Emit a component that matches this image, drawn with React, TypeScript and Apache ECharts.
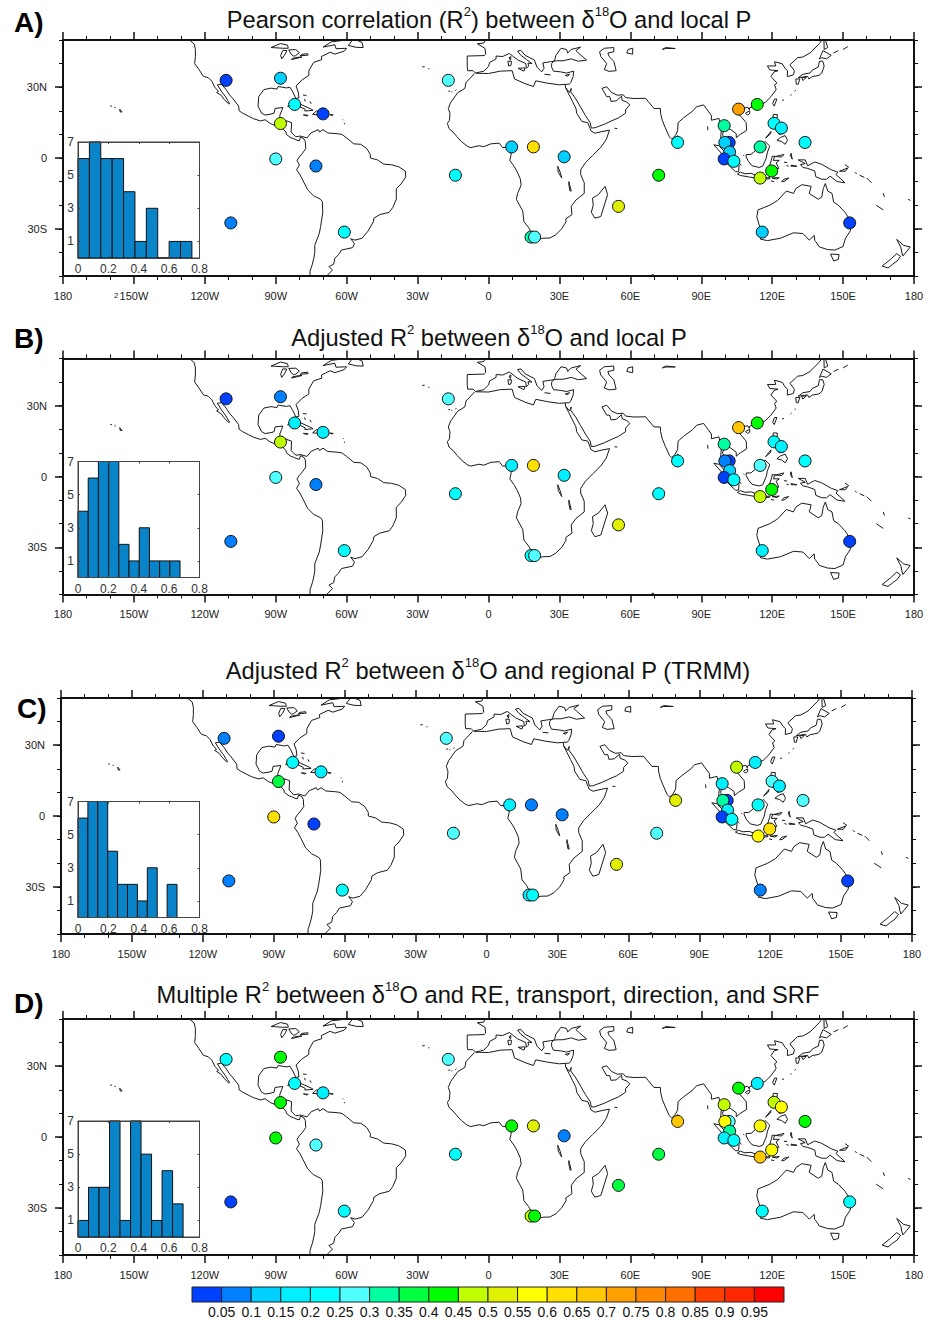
import React, { useEffect, useRef } from "react";
import * as echarts from "echarts";

const STATION_LON = [-111, -88, -82, -70, -88, -90, -73, -109, -61, -17, -14, 9.8, 19, 32, 18, 19.5, 55, 72, 80, 105.8, 113.7, 99.7, 101.8, 100, 102, 99.7, 103.8, 114.9, 119.8, 114.9, 120.8, 123.9, 133.9, 152.8, 115.8];
const STATION_LAT = [32.9, 33.8, 22.7, 18.7, 14.6, -0.4, -3.4, -27.5, -31.4, 32.9, -7.3, 4.7, 4.7, 0.5, -33.5, -33.5, -20.5, -7.3, 6.6, 20.7, 22.7, 13.7, 6.6, 6.6, 2.5, -0.4, -1.4, 4.7, -5.5, -8.5, 14.7, 12.7, 6.6, -27.5, -31.4];

const R2_A = [0.03, 0.13, 0.23, 0.03, 0.48, 0.28, 0.08, 0.08, 0.23, 0.28, 0.23, 0.13, 0.63, 0.13, 0.33, 0.28, 0.53, 0.43, 0.23, 0.73, 0.43, 0.33, 0.03, 0.13, 0.13, 0.03, 0.23, 0.33, 0.43, 0.48, 0.23, 0.18, 0.23, 0.03, 0.13];
const R2_B = [0.03, 0.08, 0.18, 0.18, 0.48, 0.28, 0.08, 0.08, 0.23, 0.28, 0.23, 0.18, 0.63, 0.18, 0.23, 0.28, 0.53, 0.23, 0.23, 0.68, 0.43, 0.33, 0.03, 0.08, 0.13, 0.03, 0.23, 0.28, 0.43, 0.48, 0.23, 0.18, 0.23, 0.03, 0.18];
const R2_C = [0.08, 0.03, 0.23, 0.18, 0.38, 0.63, 0.03, 0.08, 0.23, 0.28, 0.28, 0.18, 0.08, 0.08, 0.18, 0.23, 0.53, 0.28, 0.53, 0.48, 0.18, 0.18, 0.03, 0.33, 0.18, 0.03, 0.23, 0.23, 0.63, 0.58, 0.28, 0.18, 0.28, 0.03, 0.08];
const R2_D = [0.23, 0.43, 0.23, 0.18, 0.43, 0.43, 0.28, 0.03, 0.23, 0.28, 0.23, 0.43, 0.53, 0.08, 0.48, 0.43, 0.38, 0.38, 0.68, 0.43, 0.18, 0.48, 0.28, 0.58, 0.33, 0.18, 0.23, 0.58, 0.58, 0.68, 0.48, 0.58, 0.43, 0.23, 0.23];

const HIST_A = [6, 7, 6, 6, 4, 1, 3, 0, 1, 1];
const HIST_B = [4, 6, 7, 7, 2, 1, 3, 1, 1, 1];
const HIST_C = [6, 7, 7, 4, 2, 2, 1, 3, 0, 2];
const HIST_D = [1, 3, 3, 7, 1, 7, 5, 1, 4, 2];
const BIN_A = 0.075;
const BIN_B = 0.0672;
const BIN_C = 0.0652;
const BIN_D = 0.0692;

const HIST_TICKS_Y = [1, 3, 5, 7];
const LAT_LABELS = [-30, 0, 30];
const LAT_MINOR = [-50, -40, -30, -20, -10, 0, 10, 20, 30, 40, 50];
const BAR_LABELS = [0.05, 0.1, 0.15, 0.2, 0.25, 0.3, 0.35, 0.4, 0.45, 0.5, 0.55, 0.6, 0.65, 0.7, 0.75, 0.8, 0.85, 0.9, 0.95];
const BAR_COLORS = ["#0040ff", "#0080ff", "#00d0ff", "#00f0ff", "#00ffff", "#50ffff", "#00ffa0", "#00ff40", "#00ff00", "#c0ff00", "#e0f000", "#ffff00", "#ffe000", "#ffc800", "#ffa000", "#ff8800", "#ff7000", "#ff4000", "#ff2800", "#ff0000"];

const TITLE_A = "{t|Pearson correlation (R}{s|2}{t|) between δ}{s|18}{t|O and local P}";
const TITLE_B = "{t|Adjusted R}{s|2}{t| between δ}{s|18}{t|O and local P}";
const TITLE_C = "{t|Adjusted R}{s|2}{t| between δ}{s|18}{t|O and regional P (TRMM)}";
const TITLE_D = "{t|Multiple R}{s|2}{t| between δ}{s|18}{t|O and RE, transport, direction, and SRF}";

const COASTS: number[][][] = [
  // North + Central America, west side then South America west coast
  [[-126.5, 50], [-124.5, 48.3], [-124, 46], [-124, 43], [-124.3, 40], [-122.5, 37.5], [-120.6, 34.6], [-118.5, 34], [-117, 32.5], [-115.8, 30], [-114.2, 28.2], [-115, 27.8], [-113, 26.5], [-112, 25], [-110, 23], [-109.5, 23], [-110.3, 24.3], [-111.3, 26], [-112.8, 28], [-114.7, 31], [-113, 31.3], [-111, 29], [-109.5, 26.7], [-108, 25], [-105.7, 22], [-105.5, 20], [-104, 19], [-101.5, 17.7], [-99.5, 16.7], [-96.5, 15.7], [-94.5, 16.2], [-92.3, 14.6], [-90, 13.7], [-87.5, 13], [-85.7, 11], [-85.5, 10], [-83.5, 8.5], [-82.5, 8.2], [-81, 7.5], [-80, 7.3], [-79.5, 8.9], [-78, 8], [-77.5, 7], [-77.3, 4], [-78.7, 2], [-80, 0.5], [-81, -1], [-80, -3], [-81.2, -5], [-79.8, -7], [-78.5, -9.5], [-76.5, -13.5], [-74, -16], [-71, -17.5], [-70.3, -18.5], [-70.1, -23], [-71, -29], [-71.6, -32], [-73.5, -37], [-73.5, -40], [-73.8, -42], [-74.5, -45], [-75.5, -48], [-75.5, -50]],
  // South America east coast, Caribbean shore, Gulf, North America east coast
  [[-68.5, -50], [-66, -47.5], [-67.5, -46], [-65.5, -45], [-65, -42.5], [-63.5, -41], [-62.2, -39], [-57.5, -38], [-56.7, -36.3], [-58.3, -34.2], [-56.5, -34.8], [-53.5, -34], [-51, -31], [-48.7, -27], [-48.5, -25.5], [-46, -24], [-42, -23], [-40.5, -21], [-39, -17.5], [-39, -13], [-37, -11], [-35, -8], [-35.2, -5.5], [-38, -3.7], [-41, -2.9], [-44.3, -2.6], [-47, -0.8], [-50, 0], [-50, 1.5], [-51.5, 4], [-54, 5.8], [-57, 6], [-60, 8.5], [-62, 10], [-64, 10.3], [-68, 10.6], [-70, 12], [-71.5, 11], [-72, 12], [-75, 10.7], [-76.8, 8.5], [-79.5, 9.3], [-81.5, 9], [-83.5, 11], [-83.3, 15], [-86, 15.9], [-88, 15.9], [-88.3, 18], [-87.5, 20], [-87, 21.4], [-90.3, 21], [-90.7, 19], [-92, 18.6], [-94.5, 18.2], [-96, 19], [-97.5, 22], [-97.2, 26], [-95, 29], [-92, 29.6], [-89.5, 29.2], [-89, 30.3], [-85.5, 29.7], [-84, 30], [-82.8, 28], [-81.5, 25.2], [-80.2, 25.5], [-80.5, 28], [-81.4, 30.5], [-79, 33], [-76, 35], [-76, 37], [-74, 40.5], [-70.5, 41.7], [-70.7, 43], [-67, 44.8], [-65, 44], [-61, 45.3], [-60, 46.5], [-64.5, 46.3], [-65, 48], [-70, 47], [-66.5, 49.2], [-60, 50]],
  // Great Lakes, Newfoundland
  [[-92, 46.8], [-88, 48.5], [-85, 47.8], [-84.7, 46.5], [-87, 46.5], [-90, 46.7], [-92, 46.8]],
  [[-87.5, 42], [-86.3, 43.5], [-85.3, 45.5], [-87, 45.6], [-87.9, 43.5], [-87.5, 42]],
  [[-84.5, 45.8], [-81.5, 45.9], [-80, 44.6], [-81.7, 43.3], [-82.5, 43.2], [-83.5, 44], [-84.5, 45.8]],
  [[-83.3, 41.7], [-78.9, 42.8], [-80.5, 42.7], [-83, 42.2], [-83.3, 41.7]],
  [[-79.7, 43.3], [-76.3, 43.6], [-76.5, 44.2], [-79, 43.9], [-79.7, 43.3]],
  [[-59.3, 47.7], [-56, 46.9], [-53, 46.8], [-53.5, 49], [-56, 50], [-57.5, 50], [-59.3, 47.7]],
  // Caribbean islands
  [[-85, 21.9], [-82.5, 23], [-80, 23], [-75, 20.7], [-74.2, 20.2], [-77.7, 19.9], [-77.5, 20.6], [-80, 21.8], [-82, 22.4], [-85, 21.9]],
  [[-74.4, 18.5], [-72.8, 19.9], [-69.8, 19.7], [-68.4, 18.6], [-71, 18.2], [-74.4, 18.5]],
  [[-78.3, 18.3], [-76.3, 18.1], [-77, 17.8], [-78.3, 18.3]],
  [[-67.2, 18.4], [-65.7, 18.3], [-66, 18], [-67.2, 18.4]],
  [[-78.5, 26.7], [-77, 26.5]], [[-77.8, 25], [-77.5, 24]], [[-75.5, 24], [-75, 23]],
  [[-61.6, 16.3], [-61.3, 16]], [[-61, 14.8], [-60.9, 14.3]],
  // Hawaii, Atlantic islands
  [[-156, 20.7], [-155.8, 19.5], [-155, 19.5], [-156, 20.7]], [[-160, 22], [-159.3, 22]], [[-158.2, 21.5], [-157.7, 21.4]],
  [[-17, 28.3], [-16.2, 28.4]], [[-15.7, 28], [-15.3, 28]], [[-14, 28.5], [-13.6, 29]],
  [[-28, 38.6], [-27, 38.7]], [[-25.5, 37.8], [-25, 37.8]],
  // Africa
  [[-5.9, 35.8], [-9.5, 32], [-10, 29.5], [-13, 27.7], [-16, 23.5], [-17, 21], [-16.3, 19], [-16.5, 16], [-17.4, 14.7], [-16.7, 12.5], [-15, 11], [-13.3, 9], [-11.5, 7], [-9, 5], [-7.5, 4.4], [-4, 5.2], [-2, 4.8], [1, 6], [4.5, 6.3], [6, 4.4], [8.5, 4.6], [9.7, 3.8], [9.5, 1], [9, -1], [11, -3.8], [12.2, -6], [13.5, -9], [13.8, -11.5], [12.3, -15], [11.8, -17.5], [14.5, -22.5], [15, -27], [17, -29.5], [18.3, -32], [18.5, -34.2], [20, -34.8], [23, -34], [26, -33.9], [28.5, -32.5], [31, -30], [32.8, -27], [32.7, -25.8], [35.3, -24], [35, -20.5], [37, -17.8], [40.5, -15], [40.5, -10.5], [39, -7], [39, -5], [41, -2], [44, 1], [47.5, 4.5], [49.8, 7.8], [51.2, 11.8], [48, 11.2], [45, 10.5], [43.3, 11.5], [43, 12.5], [42, 15], [39.5, 15.5], [37.3, 19], [37, 21], [35.5, 24], [34, 27], [32.6, 29.8], [32.5, 31.2], [30, 31], [25, 31.7], [20, 32.7], [19, 30.3], [15.5, 31.5], [11, 33.5], [10, 37], [5, 36.8], [0, 35.8], [-5.3, 35.9]],
  // Europe and Middle East Mediterranean shore
  [[-1.5, 50], [-2, 48.7], [-4.7, 48.4], [-1.5, 46.5], [-1.2, 44], [-1.8, 43.4], [-9, 43.2], [-9, 38.7], [-8.8, 37], [-6.5, 37], [-5.5, 36], [-2, 36.8], [0, 38.8], [0.5, 40.5], [3.2, 42], [3.2, 43.2], [6, 43], [8.8, 44.3], [10.5, 43], [12.3, 41.6], [15.8, 40], [16, 38], [17, 39], [16.7, 40.2], [18.4, 40], [16, 41.8], [13.7, 43.5], [12.3, 45.3], [13.7, 45.6], [15.5, 43.5], [19.4, 41.5], [20.5, 38.5], [22.5, 36.5], [23.5, 38], [23, 40.3], [26.2, 40.8], [29, 41.2], [31.5, 41.2], [35, 42], [38, 41], [41.5, 41.5], [38, 44.5], [37, 45.5], [39, 47], [35, 46], [33.5, 44.5], [33, 46], [30.7, 46.5], [28.5, 43.5], [28, 41.5], [26.7, 40], [26.7, 38.5], [27.5, 36.8], [30.5, 36.5], [33, 36], [36, 36.8], [35.8, 34.5], [34.8, 32], [34.2, 31.3], [32.5, 31.2]],
  // Sinai, Arabia, South and East Asia
  [[32.6, 29.8], [34.3, 27.8], [35, 29.5], [34.8, 28], [37, 25], [39, 21.5], [41, 18], [43, 15], [43.5, 12.7], [45, 12.8], [49, 14.3], [52.2, 15.8], [55, 17], [58, 19], [58, 20.5], [59.8, 22.5], [58.5, 23.7], [56.5, 24.5], [56.3, 26.2], [54, 24.2], [51.8, 24], [51.3, 26], [50, 26], [48, 29.5], [50, 30.2], [52, 27.8], [54.5, 26.6], [57, 26.8], [58, 25.6], [61.5, 25.2], [66.5, 25.3], [67.5, 24], [70, 21], [72.7, 21], [72.8, 19], [73.5, 16], [74.8, 12.8], [76.5, 9], [77.5, 8], [79, 9.5], [80, 11.5], [80.2, 15], [82.5, 17], [86.5, 20], [88, 21.7], [91, 22.5], [92.3, 20.7], [94.3, 18], [94.3, 16], [97.5, 16.8], [98.5, 12], [98.2, 8], [100.3, 5.5], [101.3, 3], [103.5, 1.3], [104.2, 1.4], [103.4, 4], [102.3, 6], [100.2, 7.5], [99, 10], [100, 13.4], [101, 12.7], [102.5, 12], [104.8, 10.3], [104.8, 8.6], [106.5, 10], [109.2, 11.7], [109, 15], [106, 18.5], [105.8, 19.5], [107.5, 21], [109.7, 21.5], [110.3, 20.4], [110.5, 21.3], [113.5, 22.3], [117, 23.5], [119.5, 26], [121.7, 29], [121, 31], [122, 31.8], [119.5, 34.5], [120.8, 36.5], [122.5, 37], [119, 37.3], [118, 39], [121.5, 39], [121, 40.8], [124.3, 39.9], [125.4, 38], [126.5, 37], [126.4, 34.5], [129, 35.2], [129.4, 37], [127.5, 39.5], [129.7, 41.5], [130.7, 42.5], [133, 42.8], [136, 44.5], [140, 48.5], [141, 50]],
  // Inland seas and lakes
  [[49, 46.5], [53, 46.8], [53, 45], [50.5, 44.5], [51, 43], [53, 41], [54, 37], [51, 36.7], [49, 37.5], [50, 40], [47.5, 43], [47, 45], [49, 46.5]],
  [[59, 46], [61, 46.5], [61, 44], [58.5, 44.5], [59, 46]],
  [[73.5, 46], [75, 46.8], [79, 46.4], [75, 46.4], [73.5, 46]],
  [[29.3, -3.5], [29.5, -6], [31, -8.5], [30.3, -6], [29.3, -3.5]],
  [[34, -10], [34.5, -12], [35, -14], [34.5, -14], [34, -11.5], [34, -10]],
  // Mediterranean and other islands
  [[8.2, 41], [9.7, 41], [9.5, 39.2], [8.5, 39], [8.2, 41]], [[8.7, 42.5], [9.5, 43], [9.3, 41.5], [8.7, 42.5]],
  [[12.5, 38], [15.5, 38.2], [15, 36.8], [12.5, 38]], [[23.7, 35.5], [26.2, 35.2]], [[32.5, 35], [34.3, 35.5], [33.5, 34.7], [32.5, 35]],
  [[53.3, 12.6], [54.5, 12.5]], [[-4, 50], [-5.5, 50]],
  [[80, 9.5], [81.8, 7.5], [81, 6], [80, 6.2], [79.8, 8], [80, 9.5]],
  [[49.3, -12], [50.4, -15.5], [47.5, -24.8], [45, -25.5], [43.5, -23], [44.3, -20], [44, -17], [46.5, -15.5], [49.3, -12]],
  [[92.7, 13.4], [92.8, 11.8]], [[69, -49.5], [70, -49.5]],
  // East Asian islands
  [[108.7, 19], [110.5, 20], [110.5, 18.8], [109.5, 18.2], [108.7, 19]],
  [[121, 25], [122, 25], [120.9, 22], [120.2, 23], [121, 25]],
  [[131, 34], [133, 35.5], [136, 36], [137, 37.3], [139.5, 38.5], [140, 41], [141.4, 41], [142, 39], [141, 36], [139.8, 35], [137, 34.5], [135.5, 33.5], [135, 34.6], [131, 34]],
  [[130, 33.5], [131.7, 33.5], [131, 31.2], [130.2, 31.3], [130, 33.5]],
  [[132.5, 34], [134.5, 34.2], [133, 32.8], [132.5, 34]],
  [[140, 42], [141.5, 45.5], [145, 43.5], [143, 42], [141, 42.5], [140, 42]],
  [[142, 46], [143.5, 46.8], [142.5, 50], [141.9, 50], [142, 46]],
  [[127.7, 26.5], [128.2, 26.9]], [[124.2, 24.4], [125, 24.6]], [[129.5, 28.3], [130, 28.7]], [[146, 44.5], [148, 45.5]], [[150, 46], [152, 47.2]],
  // Philippines
  [[120.5, 18.5], [122.2, 18.4], [122, 16], [124, 13], [123, 13.3], [121, 13.8], [120, 15], [120.5, 18.5]],
  [[122, 7.5], [123.5, 8.7], [125.5, 9.5], [126.5, 7.5], [125.5, 5.8], [124, 7], [122, 7.5]],
  [[122, 11.5], [123, 10], [125, 10.5], [125.5, 12.5], [124, 12], [122, 11.5]],
  [[117.2, 8.4], [119.5, 11.3], [119.3, 10.2], [117.2, 8.4]],
  // Indonesia
  [[109, 1.5], [111, 1.5], [113, 3.2], [115, 5], [117, 7], [119, 5], [118, 2.5], [117.5, 0], [116, -3.5], [114.5, -4], [111.5, -3.3], [110, -1.5], [109, 0.5], [109, 1.5]],
  [[95.3, 5.6], [97.5, 5.2], [100.5, 2], [103.5, -1], [106, -3], [105.8, -5.8], [104.5, -5.8], [101, -2.5], [98.8, 1.7], [95.3, 5.6]],
  [[105.3, -6.8], [106.5, -6], [108.5, -6.7], [111, -6.5], [114.5, -7.7], [114.3, -8.7], [110, -8], [106.5, -7.4], [105.3, -6.8]],
  [[115, -8.5], [116.5, -8.5], [119, -8.3], [119, -8.8], [116, -9], [115, -8.5]],
  [[120, -8.5], [123, -8.3], [122, -8.9], [120, -8.5]],
  [[124, -10], [125, -9], [127, -8.5], [125, -10], [124, -10]],
  [[119.5, -9.7], [120.8, -10]],
  [[119.5, -5.5], [120.4, -5.5], [120.5, -3], [121.5, -4.5], [122.8, -4.5], [121.7, -2], [123, -1], [120.5, -1], [121, 0.5], [125, 1.5], [124, 0.4], [120, 0.8], [119.8, -0.5], [119, -3], [119.5, -5.5]],
  [[128, 2], [128.5, -0.5], [127.7, 1], [128, 2]],
  [[128, -3], [130.5, -3.5], [128, -3.5], [128, -3]], [[126, -3.2], [127, -3.5]], [[125, -1.8], [126.3, -1.9]], [[107.8, 1.2], [108.2, 0.8]], [[106, -2.2], [107, -3]],
  [[131, -0.8], [134, -0.8], [135, -3.3], [138, -1.7], [141, -2.7], [145, -5], [147.8, -6], [147, -7], [150.8, -10.5], [147.5, -10], [144.5, -7.7], [143, -9], [141, -9], [138.5, -8], [138, -5.5], [135, -4.4], [133, -4], [132, -2.8], [134, -2.4], [131, -0.8]],
  [[148.5, -5.6], [152, -4.2], [151, -5.6], [148.5, -5.6]], [[150.8, -2.8], [152.5, -4]],
  [[155, -6], [155.8, -6.8]], [[157, -7.3], [159, -8.2]], [[160, -8.5], [162, -10.5]],
  [[167, -15], [167.5, -16.5]], [[164, -20], [167, -22]], [[177.5, -17.5], [178.5, -18]],
  // Australia, Tasmania, New Zealand
  [[114, -22], [113.5, -25], [115, -30], [115.7, -33], [115, -34.4], [118, -35], [123.5, -34], [129, -31.7], [133, -32], [135.7, -34.8], [137.8, -32.8], [138, -35], [138.5, -35.5], [140, -37.7], [143.5, -38.8], [146.5, -39], [150, -37.5], [151, -34], [153, -31], [153.5, -27], [150.8, -23], [148, -20], [146, -18.7], [145.3, -15], [143.5, -14], [142.5, -10.8], [141.6, -13], [141, -16.5], [139.5, -17.5], [135.7, -15], [136.5, -12], [132.5, -11.3], [130, -13], [129, -15], [126, -14], [122.3, -18], [119, -20], [114, -22]],
  [[144.7, -40.7], [148.3, -40.9], [148, -43], [146, -43.6], [145.3, -42], [144.7, -40.7]],
  [[172.7, -34.5], [174.5, -36], [175.5, -37], [178.4, -37.7], [177, -39.5], [175.3, -41.5], [174.8, -39.8], [174.5, -38], [172.7, -34.5]],
  [[172.7, -40.5], [174.3, -41.7], [172.8, -43.7], [171, -45], [169, -46.6], [166.5, -45.8], [170, -43], [172.7, -40.5]],
];

const INK = "#111111";
const LABEL = "#222222";
const FONT = "'Liberation Sans', Arial, sans-serif";
const BAR_FILL = "#0a84c8";

const colorOf = (v: number) => BAR_COLORS[Math.min(19, Math.floor(v / 0.05))];

const lonLabel = (v: number) => {
  if (v === 0) return "0";
  if (Math.abs(v) === 180) return "180";
  return v < 0 ? `${-v}W` : `${v}E`;
};
const latLabel = (v: number) => (v === 0 ? "0" : v < 0 ? `${-v}S` : `${v}N`);

const rectItem = (fill: (api: any) => string, stroke: string, lw: number) => (_p: any, api: any) => {
  const a = api.coord([api.value(0), api.value(2)]);
  const b = api.coord([api.value(1), 0]);
  return {
    type: "rect",
    shape: { x: a[0], y: a[1], width: b[0] - a[0], height: b[1] - a[1] },
    style: { fill: fill(api), stroke, lineWidth: lw },
  };
};

const PANELS = [
  { letter: "A)", letterX: 9, letterY: 3, title: TITLE_A, titleX: 484, titleY: 0, left: 63, top: 40, values: R2_A, hist: HIST_A, bin: BIN_A, insetTop: 142 },
  { letter: "B)", letterX: 9, letterY: 319, title: TITLE_B, titleX: 484, titleY: 318, left: 63, top: 358.5, values: R2_B, hist: HIST_B, bin: BIN_B, insetTop: 461.5 },
  { letter: "C)", letterX: 12, letterY: 689, title: TITLE_C, titleX: 483, titleY: 651, left: 61, top: 698, values: R2_C, hist: HIST_C, bin: BIN_C, insetTop: 801.5 },
  { letter: "D)", letterX: 9, letterY: 984, title: TITLE_D, titleX: 483, titleY: 975, left: 63, top: 1019, values: R2_D, hist: HIST_D, bin: BIN_D, insetTop: 1121 },
];

function buildOption() {
  const grid: any[] = [];
  const xAxis: any[] = [];
  const yAxis: any[] = [];
  const series: any[] = [];
  const title: any[] = [];

  PANELS.forEach((p) => {
    title.push({
      text: p.title, left: p.titleX, top: p.titleY, textAlign: "center",
      textStyle: { fontWeight: "normal", rich: { t: { fontFamily: FONT, fontSize: 23.7, fontWeight: "normal", color: "#111", lineHeight: 30 }, s: { fontFamily: FONT, fontSize: 13, fontWeight: "normal", color: "#111", verticalAlign: "top", lineHeight: 26 } } },
    });
    title.push({ text: p.letter, left: p.letterX, top: p.letterY, textStyle: { fontFamily: FONT, fontSize: 28, fontWeight: "bold", color: "#000" } });

    // map grid
    const g = grid.length;
    grid.push({ left: p.left, top: p.top, width: 851, height: 236, show: false });
    const xi = xAxis.length;
    const line = { show: true, onZero: false, lineStyle: { color: INK, width: 2 } };
    const xBase = {
      gridIndex: g, type: "value", min: -180, max: 180, interval: 30, splitLine: { show: false }, axisLine: line,
      axisTick: { show: true, length: 8, lineStyle: { color: INK, width: 1.5 } },
      minorTick: { show: true, splitNumber: 3, length: 4, lineStyle: { color: INK, width: 1 } },
    };
    xAxis.push({ ...xBase, position: "bottom", axisLabel: { show: true, margin: 14, fontFamily: FONT, fontSize: 11, color: LABEL, formatter: lonLabel } });
    xAxis.push({ ...xBase, position: "top", axisLabel: { show: false } });
    const yi = yAxis.length;
    const yBase = { gridIndex: g, type: "value", min: -50, max: 50, splitLine: { show: false }, axisLine: line };
    yAxis.push({ ...yBase, position: "left", axisTick: { show: true, length: 8, customValues: LAT_LABELS, lineStyle: { color: INK, width: 1.5 } }, axisLabel: { show: true, margin: 16, customValues: LAT_LABELS, fontFamily: FONT, fontSize: 11, color: LABEL, formatter: latLabel } });
    yAxis.push({ ...yBase, position: "left", axisTick: { show: true, length: 4, customValues: LAT_MINOR, lineStyle: { color: INK, width: 1 } }, axisLabel: { show: false } });
    yAxis.push({ ...yBase, position: "right", axisTick: { show: true, length: 8, customValues: LAT_LABELS, lineStyle: { color: INK, width: 1.5 } }, axisLabel: { show: false } });
    yAxis.push({ ...yBase, position: "right", axisTick: { show: true, length: 4, customValues: LAT_MINOR, lineStyle: { color: INK, width: 1 } }, axisLabel: { show: false } });

    series.push({
      type: "lines", coordinateSystem: "cartesian2d", xAxisIndex: xi, yAxisIndex: yi, polyline: true, silent: true, clip: true, z: 2,
      lineStyle: { color: "#1a1a1a", width: 1, opacity: 1 },
      data: COASTS.map((c) => ({ coords: c })),
    });
    series.push({
      type: "scatter", xAxisIndex: xi, yAxisIndex: yi, symbolSize: 12, z: 3, clip: false,
      data: STATION_LON.map((lon, i) => ({ value: [lon, STATION_LAT[i], p.values[i]], itemStyle: { color: colorOf(p.values[i]), borderColor: "#111", borderWidth: 1, opacity: 1 } })),
    });

    // histogram inset
    const h = grid.length;
    grid.push({ left: 78, top: p.insetTop, width: 121.5, height: 116, show: true, backgroundColor: "#fff", borderColor: "#444", borderWidth: 1, z: 5 });
    const hx = xAxis.length;
    const thin = { show: true, onZero: false, lineStyle: { color: "#444", width: 1 } };
    const hxBase = { gridIndex: h, type: "value", min: 0, max: 0.8, interval: 0.2, splitLine: { show: false }, axisLine: thin, z: 6 };
    xAxis.push({ ...hxBase, position: "bottom", axisTick: { show: true, inside: true, length: 2, lineStyle: { color: "#444" } }, axisLabel: { show: true, margin: 5, fontFamily: FONT, fontSize: 12, color: "#333", formatter: (v: number) => (v === 0 ? "0" : v.toFixed(1)) } });
    xAxis.push({ ...hxBase, position: "top", axisTick: { show: true, inside: true, length: 2, lineStyle: { color: "#444" } }, axisLabel: { show: false } });
    const hy = yAxis.length;
    const hyBase = { gridIndex: h, type: "value", min: 0, max: 7, splitLine: { show: false }, axisLine: thin, z: 6 };
    yAxis.push({ ...hyBase, position: "left", axisTick: { show: true, inside: true, length: 2, customValues: HIST_TICKS_Y, lineStyle: { color: "#444" } }, axisLabel: { show: true, margin: 4, customValues: HIST_TICKS_Y, fontFamily: FONT, fontSize: 12, color: "#333" } });
    yAxis.push({ ...hyBase, position: "right", axisTick: { show: true, inside: true, length: 2, customValues: HIST_TICKS_Y, lineStyle: { color: "#444" } }, axisLabel: { show: false } });
    series.push({
      type: "custom", xAxisIndex: hx, yAxisIndex: hy, z: 6, silent: true,
      encode: { x: [0, 1], y: 2 },
      renderItem: rectItem(() => BAR_FILL, "#111", 1),
      data: p.hist.map((c, i) => [i * p.bin, (i + 1) * p.bin, c]),
    });
  });

  // colour bar
  const cb = grid.length;
  grid.push({ left: 192, top: 1287, width: 592, height: 15, show: false });
  const cx = xAxis.length;
  xAxis.push({
    gridIndex: cb, type: "value", min: 0, max: 1, position: "bottom", splitLine: { show: false }, axisLine: { show: false }, axisTick: { show: false },
    axisLabel: { show: true, margin: 3, customValues: BAR_LABELS, fontFamily: FONT, fontSize: 14, color: "#111", formatter: (v: number) => String(v) },
  });
  const cy = yAxis.length;
  yAxis.push({ gridIndex: cb, type: "value", min: 0, max: 1, show: false });
  series.push({
    type: "custom", xAxisIndex: cx, yAxisIndex: cy, silent: true, encode: { x: [0, 1], y: 2 },
    renderItem: rectItem((api) => BAR_COLORS[api.value(3)], "#222", 1),
    data: BAR_COLORS.map((_c, i) => [i * 0.05, (i + 1) * 0.05, 1, i]),
  });

  return {
    animation: false,
    backgroundColor: "#ffffff",
    title, grid, xAxis, yAxis, series,
    graphic: [{ type: "text", x: 114, y: 291, silent: true, style: { text: "2", font: `8px ${FONT}`, fill: LABEL } }],
  };
}

export default function App() {
  const ref = useRef<HTMLDivElement>(null);
  useEffect(() => {
    document.body.style.margin = "0";
    const chart = echarts.init(ref.current!, undefined, { renderer: "svg" });
    chart.setOption(buildOption());
    return () => chart.dispose();
  }, []);
  return <div ref={ref} style={{ width: 929, height: 1320, position: "absolute", left: 0, top: 0 }} />;
}
